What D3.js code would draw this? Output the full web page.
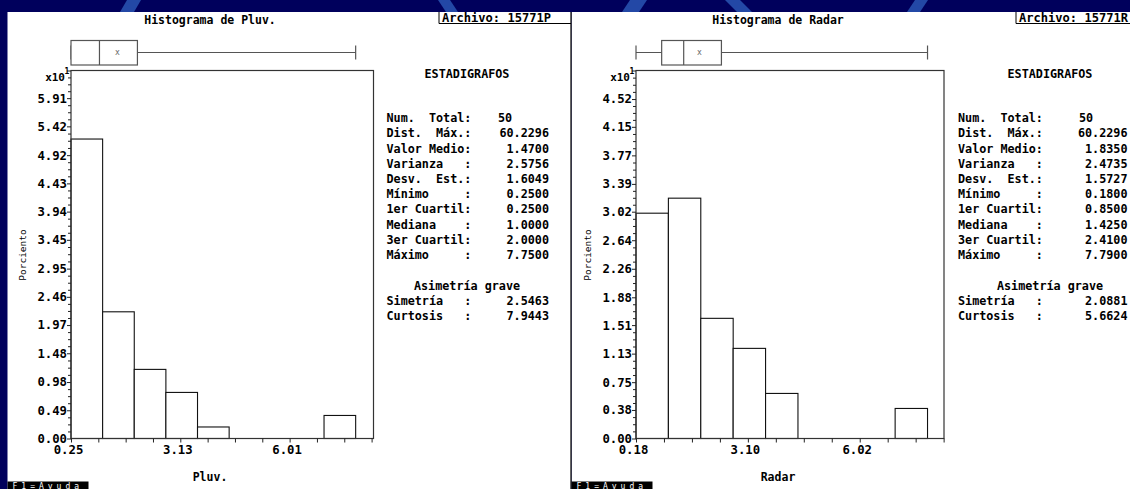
<!DOCTYPE html>
<html>
<head>
<meta charset="utf-8">
<script src="https://cdn.jsdelivr.net/npm/d3@7"></script>
<style>
	body { margin: 0; background: #00005c; overflow: hidden; }
	svg { display: block; }
	text { font-family: 'DejaVu Sans Mono', monospace; fill: #000; }
</style>
</head>
<body>
<svg id="chart"></svg>
<script>
let width = 1130
let height = 489

// histogram values, percent of samples per bin (9 bins between min and max)
let pluvPct = [52, 22, 12, 8, 2, 0, 0, 0, 4]
let radarPct = [30, 32, 16, 12, 6, 0, 0, 0, 4]

// y tick labels (values x10^1)
let pluvYTicks = ['0.00','0.49','0.98','1.48','1.97','2.46','2.95','3.45','3.94','4.43','4.92','5.42','5.91']
let radarYTicks = ['0.00','0.38','0.75','1.13','1.51','1.88','2.26','2.64','3.02','3.39','3.77','4.15','4.52']
let pluvYTop = 6.39
let radarYTop = 4.90

// x tick labels, one every 4 minor ticks
let pluvXTicks = ['0.25','3.13','6.01']
let radarXTicks = ['0.18','3.10','6.02']
let pluvXStep = 0.72
let radarXStep = 0.73
let xEnd = 8.22

let statLabels = ['Num.  Total:','Dist.  Máx.:','Valor Medio:','Varianza   :','Desv.  Est.:',
	'Mínimo     :','1er Cuartil:','Mediana    :','3er Cuartil:','Máximo     :']
let shapeLabels = ['Simetría   :','Curtosis   :']

let pluvStats = ['50','60.2296','1.4700','2.5756','1.6049','0.2500','0.2500','1.0000','2.0000','7.7500']
let radarStats = ['50','60.2296','1.8350','2.4735','1.5727','0.1800','0.8500','1.4250','2.4100','7.7900']
let pluvShape = ['2.5463','7.9443']
let radarShape = ['2.0881','5.6624']

let panels = [
	{
		name: 'Pluv.', file: '15771P', pct: pluvPct, yTicks: pluvYTicks, yTop: pluvYTop,
		xTicks: pluvXTicks, xStep: pluvXStep, stats: pluvStats, shape: pluvShape,
		left: 7.5, right: 571, plotL: 71, plotR: 373.5, titleX: 210, fileX: 439,
		labelX: 386.5, numX: 498, valX: 549, centerX: 467
	},
	{
		name: 'Radar', file: '15771R', pct: radarPct, yTicks: radarYTicks, yTop: radarYTop,
		xTicks: radarXTicks, xStep: radarXStep, stats: radarStats, shape: radarShape,
		left: 571.5, right: 1130, plotL: 636, plotR: 944, titleX: 778, fileX: 1016,
		labelX: 958, numX: 1079, valX: 1127.5, centerX: 1050
	},
]

let plotTop = 70.5
let plotBottom = 438.5

// keep the fixed-width spacing of the labels
let nb = s => s.replace(/ /g, '\u00a0')

let svg = d3.select('#chart')
	.attr('width', width)
	.attr('height', height)

// background decoration
let deco = svg.append('g')
let stripes = [
	[[127,0],[141,0],[134,12],[120,12]],
	[[438,0],[450,0],[458,12],[446,12]],
	[[630,0],[647,0],[639,12],[622,12]],
	[[725,0],[740,0],[752,12],[737,12]],
	[[915,0],[928,0],[920,12],[907,12]],
]
deco.selectAll('polygon')
	.data(stripes)
	.enter().append('polygon')
	.attr('points', d => d.map(p => p.join(',')).join(' '))
	.attr('fill', '#2348a6')

function drawPanel(p) {
	let g = svg.append('g')

	g.append('rect')
		.attr('x', p.left)
		.attr('y', 12)
		.attr('width', p.right - p.left)
		.attr('height', height - 12)
		.attr('fill', '#fff')

	let xMin = +p.stats[5]
	let xMax = +p.stats[9]

	let xScale = d3.scaleLinear()
		.domain([xMin, xEnd])
		.range([p.plotL, p.plotR])

	let yScale = d3.scaleLinear()
		.domain([0, p.yTop])
		.range([plotBottom, plotTop])

	// title + file box
	g.append('text')
		.attr('x', p.titleX)
		.attr('y', 20)
		.attr('dy', '0.35em')
		.attr('text-anchor', 'middle')
		.style('font-size', '11.5px')
		.style('font-weight', 'bold')
		.text('Histograma de ' + p.name)

	g.append('path')
		.attr('d', `M${p.fileX},12V23.5H${p.right}`)
		.attr('fill', 'none')
		.attr('stroke', '#000')
	g.append('text')
		.attr('x', p.fileX + 3)
		.attr('y', 17.5)
		.attr('dy', '0.35em')
		.attr('textLength', 109)
		.attr('lengthAdjust', 'spacingAndGlyphs')
		.style('font-size', '12px')
		.style('font-weight', 'bold')
		.text('Archivo: ' + p.file)

	// bars
	let binW = (xMax - xMin) / p.pct.length
	g.append('g').selectAll('rect')
		.data(p.pct)
		.enter().append('rect')
		.attr('x', (d, i) => xScale(xMin + i * binW))
		.attr('width', xScale(xMin + binW) - xScale(xMin))
		.attr('y', d => yScale(d / 10))
		.attr('height', d => plotBottom - yScale(d / 10))
		.attr('fill', '#fff')
		.attr('stroke', d => d > 0 ? '#111' : 'none')
		.attr('stroke-width', 1.1)

	// frame
	g.append('rect')
		.attr('x', p.plotL)
		.attr('y', plotTop)
		.attr('width', p.plotR - p.plotL)
		.attr('height', plotBottom - plotTop)
		.attr('fill', 'none')
		.attr('stroke', '#333')
		.attr('stroke-width', 1.2)

	// y axis
	let yVals = p.yTicks.map(Number).concat([p.yTop])
	let yAxis = d3.axisLeft(yScale)
		.tickValues(yVals)
		.tickSize(4)
		.tickFormat((d, i) => i < p.yTicks.length ? p.yTicks[i] : '')
	let ya = g.append('g')
		.attr('transform', `translate(${p.plotL},0)`)
		.call(yAxis)
	ya.select('.domain').remove()
	ya.selectAll('line').attr('stroke', '#222')
	ya.selectAll('text')
		.attr('x', -4)
		.style('font-family', "'DejaVu Sans Mono', monospace")
		.style('font-size', '12.3px')
		.style('font-weight', 'bold')

	let minor = []
	for (let i = 0; i < yVals.length - 1; i++) {
		for (let k = 1; k < 4; k++) minor.push(yVals[i] + (yVals[i + 1] - yVals[i]) * k / 4)
	}
	let ym = g.append('g')
		.attr('transform', `translate(${p.plotL},0)`)
		.call(d3.axisLeft(yScale).tickValues(minor).tickSize(3).tickFormat(''))
	ym.select('.domain').remove()
	ym.selectAll('line').attr('stroke', '#222')

	g.append('text')
		.attr('x', p.plotL - 6)
		.attr('y', 77.5)
		.attr('dy', '0.35em')
		.attr('text-anchor', 'end')
		.style('font-size', '11px')
		.style('font-weight', 'bold')
		.text('x10')
	g.append('text')
		.attr('x', p.plotL - 6.5)
		.attr('y', 71.5)
		.attr('dy', '0.35em')
		.style('font-size', '8px')
		.style('font-weight', 'bold')
		.text('1')

	g.append('text')
		.attr('transform', `translate(${p.plotL - 48},255) rotate(-90)`)
		.attr('dy', '0.35em')
		.attr('text-anchor', 'middle')
		.style('font-size', '9.5px')
		.text('Porciento')

	// x axis
	let xVals = d3.range(12).map(k => xMin + k * p.xStep)
	let xAxis = d3.axisBottom(xScale)
		.tickValues(xVals)
		.tickSize(4)
		.tickFormat((d, i) => i % 4 == 0 ? p.xTicks[i / 4] : '')
	let xa = g.append('g')
		.attr('transform', `translate(0,${plotBottom})`)
		.call(xAxis)
	xa.select('.domain').remove()
	xa.selectAll('line').attr('stroke', '#222')
	xa.selectAll('text')
		.attr('y', 11)
		.attr('dx', -3)
		.attr('dy', '0.35em')
		.style('font-family', "'DejaVu Sans Mono', monospace")
		.style('font-size', '12.3px')
		.style('font-weight', 'bold')

	g.append('text')
		.attr('x', p.titleX)
		.attr('y', 477)
		.attr('dy', '0.35em')
		.attr('text-anchor', 'middle')
		.style('font-size', '11.5px')
		.style('font-weight', 'bold')
		.text(p.name)

	// box plot
	let q1 = +p.stats[6], med = +p.stats[7], q3 = +p.stats[8], mean = +p.stats[2]
	let box = g.append('g')
		.attr('stroke', '#555')
		.attr('stroke-width', 1.2)
		.attr('fill', 'none')
	box.append('line')
		.attr('x1', xScale(xMin)).attr('x2', xScale(xMax))
		.attr('y1', 52.5).attr('y2', 52.5)
	box.selectAll('.cap')
		.data([xMin, xMax])
		.enter().append('line')
		.attr('class', 'cap')
		.attr('x1', d => xScale(d)).attr('x2', d => xScale(d))
		.attr('y1', 45.5).attr('y2', 59.5)
	box.append('rect')
		.attr('x', xScale(q1))
		.attr('y', 40.5)
		.attr('width', xScale(q3) - xScale(q1))
		.attr('height', 24.5)
		.attr('fill', '#fff')
	box.append('line')
		.attr('x1', xScale(med)).attr('x2', xScale(med))
		.attr('y1', 40.5).attr('y2', 65)
	g.append('text')
		.attr('x', xScale(mean))
		.attr('y', 52)
		.attr('dy', '0.35em')
		.attr('text-anchor', 'middle')
		.style('font-size', '8px')
		.style('fill', '#666')
		.text('x')

	// statistics
	let st = g.append('g')
		.style('font-size', '11.75px')
		.style('font-weight', 'bold')
	st.append('text')
		.attr('x', p.centerX)
		.attr('y', 74)
		.attr('dy', '0.35em')
		.attr('text-anchor', 'middle')
		.text('ESTADIGRAFOS')
	let rowY = i => 118 + i * 15.2
	st.selectAll('.lab')
		.data(statLabels)
		.enter().append('text')
		.attr('class', 'lab')
		.attr('x', p.labelX)
		.attr('y', (d, i) => rowY(i))
		.attr('dy', '0.35em')
		.text(d => nb(d))
	st.selectAll('.val')
		.data(p.stats)
		.enter().append('text')
		.attr('class', 'val')
		.attr('x', (d, i) => i == 0 ? p.numX : p.valX)
		.attr('y', (d, i) => rowY(i))
		.attr('dy', '0.35em')
		.attr('text-anchor', (d, i) => i == 0 ? 'start' : 'end')
		.text(d => d)
	st.append('text')
		.attr('x', p.centerX)
		.attr('y', 285.7)
		.attr('dy', '0.35em')
		.attr('text-anchor', 'middle')
		.text('Asimetría grave')
	st.selectAll('.slab')
		.data(shapeLabels)
		.enter().append('text')
		.attr('class', 'slab')
		.attr('x', p.labelX)
		.attr('y', (d, i) => 300.7 + i * 15)
		.attr('dy', '0.35em')
		.text(d => nb(d))
	st.selectAll('.sval')
		.data(p.shape)
		.enter().append('text')
		.attr('class', 'sval')
		.attr('x', p.valX)
		.attr('y', (d, i) => 300.7 + i * 15)
		.attr('dy', '0.35em')
		.attr('text-anchor', 'end')
		.text(d => d)

	// help bar at the bottom
	g.append('rect')
		.attr('x', p.left)
		.attr('y', 481.5)
		.attr('width', 81)
		.attr('height', 7.5)
		.attr('fill', '#000')
	g.append('text')
		.attr('x', p.left + 5)
		.attr('y', 488.5)
		.style('font-size', '8px')
		.style('fill', '#fff')
		.style('letter-spacing', '4px')
		.text('F1=Ayuda')
}

panels.forEach(drawPanel)

// separator between the two panels
svg.append('line')
	.attr('x1', 571).attr('x2', 571)
	.attr('y1', 12).attr('y2', height)
	.attr('stroke', '#000')
	.attr('stroke-width', 1.2)
</script>
</body>
</html>
